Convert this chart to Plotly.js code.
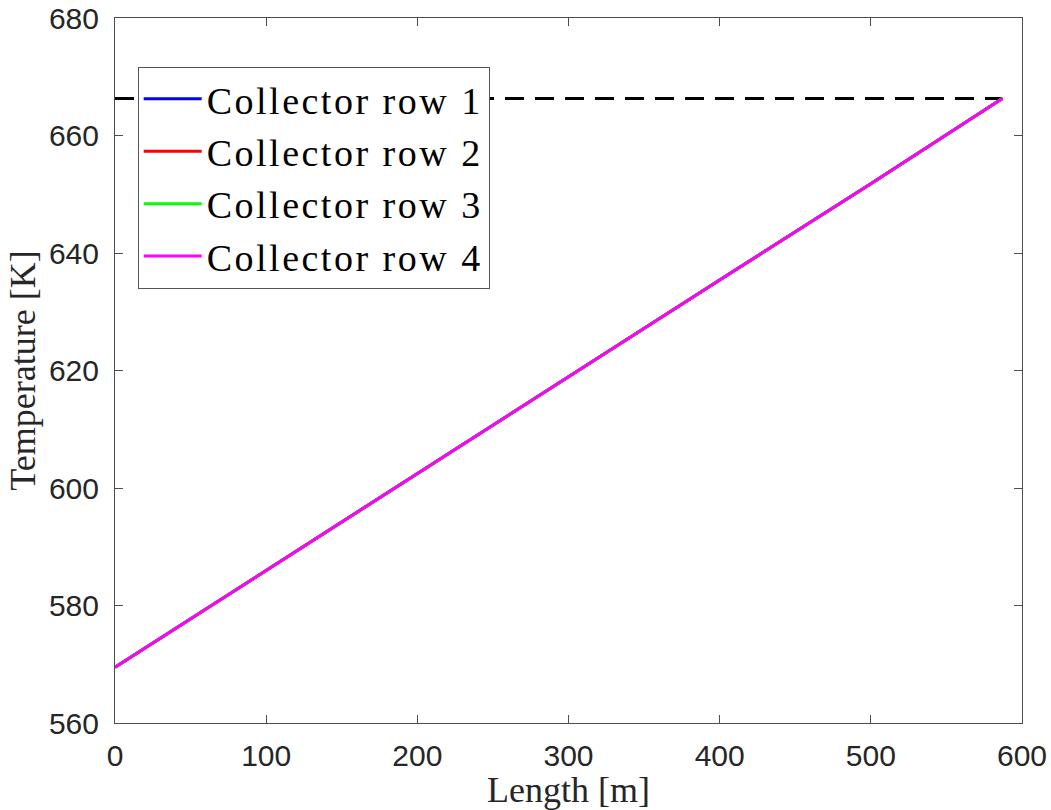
<!DOCTYPE html>
<html>
<head>
<meta charset="utf-8">
<script src="https://cdn.plot.ly/plotly-3.0.1.min.js"></script>
<style>html,body{margin:0;padding:0;background:#fff;}#chart{width:1051px;height:810px;}
.legendtext{letter-spacing:2.5px;}</style>
</head>
<body>
<div id="chart"></div>
<script>
// Data
const seriesNames = ["Collector row 1", "Collector row 2", "Collector row 3", "Collector row 4"];
const seriesColors = ["#0000ff", "#ff0000", "#00ff00", "#ff00ff"];
const lengthM = [0, 100, 200, 300, 400, 500, 587];
const tempRow1 = [569.5, 586.0, 602.4, 618.9, 635.4, 651.8, 666.3];
const tempRow2 = [569.5, 586.0, 602.4, 618.9, 635.4, 651.8, 666.3];
const tempRow3 = [569.5, 586.0, 602.4, 618.9, 635.4, 651.8, 666.3];
const tempRow4 = [569.5, 586.0, 602.4, 618.9, 635.4, 651.8, 666.3];
const refX = [0, 587];
const refTemp = [666.3, 666.3];
const xTicks = [0, 100, 200, 300, 400, 500, 600];
const yTicks = [560, 580, 600, 620, 640, 660, 680];

const rows = [tempRow1, tempRow2, tempRow3, tempRow4];
const traces = [{
  x: refX, y: refTemp, mode: 'lines', showlegend: false,
  line: {color: '#000000', width: 3, dash: '19px,11px'}, hoverinfo: 'skip'
}];
rows.forEach((r, i) => traces.push({
  x: lengthM, y: r, mode: 'lines', name: seriesNames[i],
  line: {color: seriesColors[i], width: 3}
}));

const axisCommon = {
  showgrid: false, zeroline: false, showline: true, linecolor: '#4d4d4d', linewidth: 1,
  mirror: 'allticks', ticks: 'inside', ticklen: 8, tickcolor: '#4d4d4d', tickwidth: 1,
  tickfont: {family: 'Liberation Sans, Arial, sans-serif', size: 30, color: '#262626'}
};

const layout = {
  width: 1051, height: 810,
  margin: {l: 115, r: 29, t: 18, b: 87},
  paper_bgcolor: '#ffffff', plot_bgcolor: '#ffffff',
  showlegend: true,
  xaxis: Object.assign({}, axisCommon, {
    range: [0, 600], tickvals: xTicks, ticktext: xTicks.map(String), ticklabelstandoff: 6,
    title: {text: 'Length [m]', font: {family: 'Liberation Serif, serif', size: 36, color: '#262626'}, standoff: 4}
  }),
  yaxis: Object.assign({}, axisCommon, {
    range: [560, 680], tickvals: yTicks, ticktext: yTicks.map(String), ticklabelstandoff: 9,
    title: {text: 'Temperature [K]', font: {family: 'Liberation Serif, serif', size: 36, color: '#262626'}, standoff: 2}
  }),
  legend: {
    x: 0.025, y: 0.931, xanchor: 'left', yanchor: 'top',
    bgcolor: '#ffffff', bordercolor: '#555555', borderwidth: 1,
    font: {family: 'Liberation Serif, serif', size: 38, color: '#000000'},
    itemwidth: 58, tracegroupgap: 0
  }
};

Plotly.newPlot('chart', traces, layout, {displayModeBar: false, staticPlot: true});
</script>
</body>
</html>
